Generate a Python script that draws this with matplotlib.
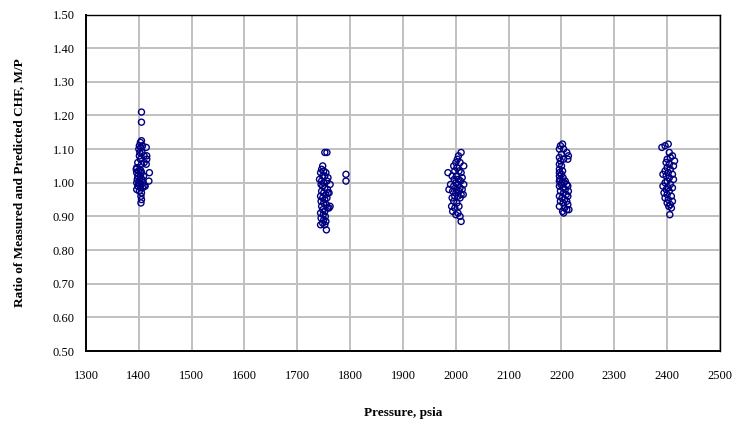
import matplotlib
matplotlib.use("Agg")
import matplotlib.pyplot as plt

# Data: (pressure, ratio M/P)
p1400 = [1405, 1405, 1405, 1403, 1401, 1407, 1400, 1404, 1414, 1402, 1406, 1410, 1415, 1415, 1401, 1403,
         1410, 1398, 1405, 1414, 1396, 1402, 1395, 1399, 1404, 1405, 1420, 1396, 1398, 1403, 1409, 1397,
         1402, 1406, 1419, 1396, 1400, 1404, 1412, 1398, 1403, 1407, 1396, 1401, 1405, 1404, 1405, 1404,
         1410, 1408]
r1400 = [1.21, 1.18, 1.125, 1.12, 1.11, 1.11, 1.10, 1.105, 1.105, 1.09, 1.09, 1.08, 1.08, 1.07, 1.08, 1.07,
         1.06, 1.06, 1.055, 1.055, 1.045, 1.04, 1.04, 1.035, 1.035, 1.03, 1.03, 1.03, 1.02, 1.02, 1.02, 1.01,
         1.01, 1.01, 1.005, 1.0, 1.0, 0.995, 0.99, 0.99, 0.985, 0.985, 0.98, 0.975, 0.97, 0.96, 0.95, 0.94,
         0.99, 1.00]

p1750 = [1752, 1756, 1748, 1746, 1750, 1744, 1754, 1748, 1752, 1758, 1742, 1746, 1750, 1756, 1762, 1745,
         1748, 1752, 1757, 1746, 1750, 1754, 1760, 1744, 1748, 1752, 1756, 1745, 1750, 1755, 1762, 1746,
         1748, 1752, 1757, 1744, 1749, 1753, 1745, 1750, 1754, 1744, 1748, 1752, 1755, 1758, 1760, 1792, 1792]
r1750 = [1.09, 1.09, 1.05, 1.04, 1.035, 1.03, 1.03, 1.02, 1.02, 1.015, 1.01, 1.005, 1.0, 1.005, 0.995, 0.995,
         0.99, 0.985, 0.98, 0.975, 0.97, 0.965, 0.97, 0.96, 0.955, 0.95, 0.955, 0.945, 0.94, 0.935, 0.93, 0.93,
         0.92, 0.915, 0.925, 0.91, 0.905, 0.90, 0.895, 0.89, 0.885, 0.875, 0.88, 0.875, 0.86, 0.97, 0.925, 1.025, 1.005]

p2000 = [2010, 2005, 2003, 2000, 2008, 1996, 2015, 2002, 1985, 1998, 2006, 2010, 1993, 2001, 2012, 1997,
         2005, 2009, 2000, 1990, 2004, 2015, 1996, 2008, 2001, 2012, 1987, 1994, 2006, 2000, 2010, 1998,
         2004, 1993, 2008, 2014, 1996, 2002, 1992, 2006, 1998, 1994, 2004, 2000, 2008, 2010]
r2000 = [1.09, 1.08, 1.07, 1.06, 1.06, 1.05, 1.05, 1.045, 1.03, 1.035, 1.035, 1.03, 1.02, 1.02, 1.015, 1.01,
         1.01, 1.005, 1.0, 0.995, 0.995, 0.995, 0.99, 0.985, 0.98, 0.98, 0.98, 0.975, 0.975, 0.97, 0.965, 0.96,
         0.96, 0.955, 0.955, 0.965, 0.945, 0.94, 0.93, 0.93, 0.925, 0.915, 0.91, 0.905, 0.90, 0.885]

p2200 = [2202, 2198, 2204, 2196, 2210, 2200, 2213, 2196, 2204, 2212, 2198, 2196, 2200, 2196, 2202, 2196,
         2200, 2196, 2203, 2197, 2196, 2200, 2205, 2210, 2196, 2212, 2203, 2207, 2198, 2213, 2204, 2209,
         2196, 2212, 2201, 2206, 2210, 2198, 2203, 2212, 2196, 2206, 2202, 2210, 2204, 2214, 2199, 2207]
r2200 = [1.115, 1.11, 1.10, 1.10, 1.09, 1.085, 1.08, 1.075, 1.07, 1.07, 1.065, 1.055, 1.05, 1.04, 1.035, 1.03,
         1.025, 1.02, 1.015, 1.01, 1.005, 1.0, 1.0, 0.995, 0.99, 0.99, 0.985, 0.98, 0.975, 0.975, 0.97, 0.965,
         0.96, 0.96, 0.955, 0.95, 0.945, 0.945, 0.94, 0.935, 0.93, 0.925, 0.915, 0.92, 0.91, 0.92, 0.995, 1.005]

p2400 = [2390, 2396, 2402, 2404, 2410, 2406, 2400, 2414, 2398, 2404, 2412, 2400, 2406, 2396, 2402, 2410,
         2392, 2398, 2404, 2412, 2400, 2396, 2406, 2392, 2402, 2410, 2398, 2404, 2394, 2400, 2408, 2396,
         2402, 2410, 2400, 2406, 2403, 2408, 2405]
r2400 = [1.105, 1.11, 1.115, 1.09, 1.08, 1.075, 1.07, 1.065, 1.06, 1.055, 1.05, 1.045, 1.04, 1.035, 1.03, 1.025,
         1.025, 1.02, 1.015, 1.01, 1.005, 1.0, 0.995, 0.99, 0.985, 0.985, 0.98, 0.975, 0.97, 0.965, 0.96, 0.955,
         0.95, 0.945, 0.94, 0.935, 0.93, 0.925, 0.905]

x_ticks = list(range(1300, 2501, 100))
y_ticks = [0.5 + 0.1 * i for i in range(11)]

pressures = p1400 + p1750 + p2000 + p2200 + p2400
ratios = r1400 + r1750 + r2000 + r2200 + r2400

fig = plt.figure(figsize=(7.35, 4.22), dpi=100)
ax = fig.add_axes([86 / 735, 1 - 351 / 422, (720 - 86) / 735, (351 - 14.5) / 422])

ax.scatter(pressures, ratios, s=19, facecolors="none", edgecolors="#000080", linewidths=1.0, zorder=3)

ax.set_xlim(1300, 2500)
ax.set_ylim(0.5, 1.5)
ax.set_xticks(x_ticks)
ax.set_yticks(y_ticks)
ax.set_xticklabels([str(v) for v in x_ticks], fontfamily="Liberation Serif", fontsize=9)
ax.set_yticklabels([f"{v:.2f}" for v in y_ticks], fontfamily="Liberation Serif", fontsize=9)
ax.grid(True, color="#c0c0c0", linewidth=1.4, zorder=0)
ax.set_axisbelow(True)
ax.tick_params(axis="y", length=0, pad=8)
ax.tick_params(axis="x", length=0, pad=14)
for s in ax.spines.values():
    s.set_color("black")
    s.set_linewidth(1.0)
ax.spines["left"].set_linewidth(1.4)
ax.spines["bottom"].set_linewidth(1.4)

ax.set_xlabel("Pressure, psia", fontfamily="Liberation Serif", fontweight="bold", fontsize=9.5, labelpad=18)
ax.set_ylabel("Ratio of Measured and Predicted CHF, M/P", fontfamily="Liberation Serif", fontweight="bold",
              fontsize=9.5, labelpad=20)

fig.savefig("out.png", dpi=100)
